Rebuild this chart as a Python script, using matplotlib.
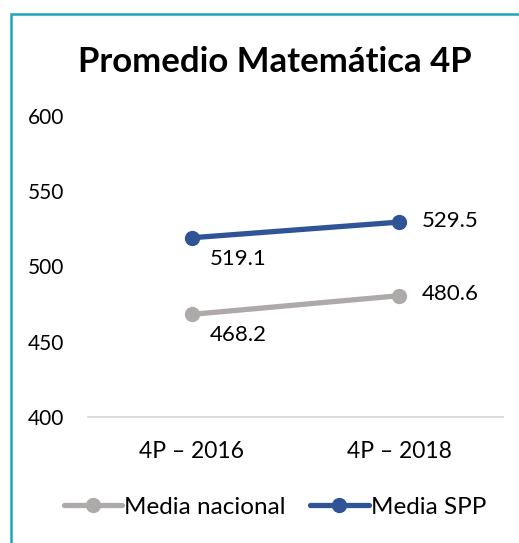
import matplotlib.pyplot as plt
from matplotlib.patches import Rectangle

categories = ["4P – 2016", "4P – 2018"]
media_nacional = [468.2, 480.6]
media_spp = [519.1, 529.5]
series_names = ["Media nacional", "Media SPP"]
yticks = [400, 450, 500, 550, 600]

plt.rcParams["font.family"] = ["Lato", "DejaVu Sans"]

fig = plt.figure(figsize=(5.19, 5.43), dpi=100)
ax = fig.add_axes([88 / 519, 1 - 417 / 543, 415 / 519, 301 / 543])

x = range(len(categories))
gray = "#aeaaaa"
blue = "#2f5597"
ax.plot(x, media_nacional, color=gray, lw=3.8, marker="o", ms=10,
        label=series_names[0], solid_capstyle="round")
ax.plot(x, media_spp, color=blue, lw=3.8, marker="o", ms=10,
        label=series_names[1], solid_capstyle="round")

# data labels: first point below, second to the right
for vals in (media_nacional, media_spp):
    ax.annotate(f"{vals[0]:.1f}", (0, vals[0]), xytext=(13, -15),
                textcoords="offset points", ha="left", va="center", fontsize=16)
    ax.annotate(f"{vals[1]:.1f}", (1, vals[1]), xytext=(16, 1),
                textcoords="offset points", ha="left", va="center", fontsize=16)

ax.set_xlim(-0.5, 1.5)
ax.set_ylim(400, 600)
ax.set_yticks(yticks)
ax.set_xticks(list(x))
ax.set_xticklabels(categories)
ax.tick_params(axis="both", length=0)
ax.tick_params(axis="y", pad=17, labelsize=15)
ax.tick_params(axis="x", pad=17, labelsize=16.5)
for s in ["top", "right", "left"]:
    ax.spines[s].set_visible(False)
ax.spines["bottom"].set_color("#d9d9d9")
ax.spines["bottom"].set_linewidth(1.3)

fig.text(275 / 519, 1 - 62 / 543, "Promedio Matemática 4P", fontsize=25,
         fontweight="bold", ha="center", va="center")

fig.legend(loc="center", bbox_to_anchor=(275 / 519, 1 - 507 / 543), ncol=2,
           frameon=False, fontsize=17.5, handlelength=2.4, handletextpad=0.1,
           columnspacing=1.0)

fig.patches.append(Rectangle((10.5 / 519, -0.1), 1.2, 1 - 14.5 / 543 + 0.1,
                             transform=fig.transFigure, fill=False,
                             edgecolor="#1ea6b8", lw=1.8))

fig.savefig("out.png", dpi=100)
